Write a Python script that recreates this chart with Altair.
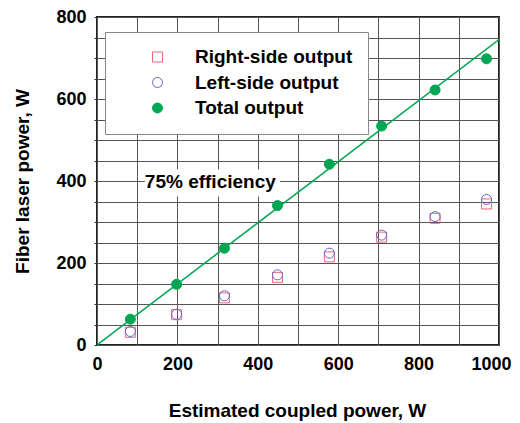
import altair as alt
import pandas as pd

# ---- data ----
coupled = [83, 198, 317, 449, 578, 708, 841, 969]
right_side = [31, 74, 115, 165, 215, 263, 309, 344]
left_side = [33, 75, 120, 171, 224, 268, 313, 355]
total = [63, 148, 236, 340, 441, 534, 622, 698]
series_names = ["Right-side output", "Left-side output", "Total output"]

fit_x = [0, 1000]
fit_y = [0, 745]

ann_text = ["75% efficiency"]
ann_x = [119]
ann_y = [397]
ann_box_x = [119, 455]
ann_box_y = [362, 428]

x_ticks = list(range(0, 1001, 100))
y_ticks = list(range(0, 801, 50))

FONT = "Liberation Sans"

rows = []
for name, vals in zip(series_names, [right_side, left_side, total]):
    for xv, yv in zip(coupled, vals):
        rows.append({"x": xv, "y": yv, "series": name})
df = pd.DataFrame(rows)
df_fit = pd.DataFrame({"x": fit_x, "y": fit_y})
df_ann = pd.DataFrame({"x": ann_x, "y": ann_y, "t": ann_text})
df_box = pd.DataFrame({"x": [ann_box_x[0]], "x2": [ann_box_x[1]],
                       "y": [ann_box_y[0]], "y2": [ann_box_y[1]]})

xscale = alt.Scale(domain=[0, 1000], nice=False, zero=False)
yscale = alt.Scale(domain=[0, 800], nice=False, zero=False)

xaxis = alt.Axis(values=x_ticks, format="d", labelFlush=False,
                 labelExpr="datum.value % 200 == 0 ? datum.label : ''",
                 labelAlign={"condition": {"test": "datum.value == 1000", "value": "right"},
                             "value": "center"},
                 labelOffset={"condition": {"test": "datum.value == 1000", "value": 12},
                              "value": 0},
                 title="Estimated coupled power, W", grid=True, ticks=False,
                 labelPadding=10, titleX=200, titleY=65, titleBaseline="middle")
yaxis = alt.Axis(values=y_ticks, format="d", labelFlush=False,
                 labelExpr="datum.value % 200 == 0 ? datum.label : ''",
                 title="Fiber laser power, W", grid=True, ticks=True, tickSize=3,
                 labelPadding=8, titleX=-75, titleY=164, titleBaseline="middle",
                 titleAngle=-90)

base_x = alt.X("x:Q", scale=xscale, axis=xaxis)
base_y = alt.Y("y:Q", scale=yscale, axis=yaxis)

box = alt.Chart(df_box).mark_rect(color="white").encode(
    x=alt.X("x:Q", scale=xscale, axis=xaxis), x2="x2:Q",
    y=alt.Y("y:Q", scale=yscale, axis=yaxis), y2="y2:Q")

line = alt.Chart(df_fit).mark_line(color="#00a651", strokeWidth=1.5, clip=True).encode(
    x=base_x, y=base_y)

pts = alt.Chart(df).mark_point(opacity=1, strokeWidth=1, size=100).encode(
    x=base_x, y=base_y,
    shape=alt.Shape("series:N", scale=alt.Scale(domain=series_names,
                    range=["square", "circle", "circle"]),
                    legend=alt.Legend(title=None)),
    stroke=alt.Stroke("series:N", scale=alt.Scale(domain=series_names,
                      range=["#ee6677", "#6666cc", "#00a651"]),
                      legend=alt.Legend(title=None)),
    fill=alt.Fill("series:N", scale=alt.Scale(domain=series_names,
                  range=["transparent", "transparent", "#00a651"]),
                  legend=alt.Legend(title=None)),
    order=alt.Order("series:N", sort="descending"),
)

ann = alt.Chart(df_ann).mark_text(align="left", baseline="middle", font=FONT,
                                  fontWeight="bold", fontSize=19, color="black").encode(
    x=base_x, y=base_y, text="t:N")

chart = alt.layer(box, line, pts, ann).properties(
    width=402, height=328,
    autosize=alt.AutoSizeParams(type="none"),
    padding={"left": 89, "top": 9, "right": 13, "bottom": 78},
).configure_view(
    stroke="#222", strokeWidth=2
).configure_axis(
    labelFont=FONT, labelFontWeight="bold", labelFontSize=18, labelColor="black",
    titleFont=FONT, titleFontWeight="bold", titleFontSize=19, titleColor="black",
    gridColor="#555", gridWidth=1, gridOpacity=1, domain=False, tickColor="#333",
).configure_legend(
    orient="none", legendX=8, legendY=15,
    fillColor="white", strokeColor="#888", padding=15.5,
    labelFont=FONT, labelFontWeight="bold", labelFontSize=19, labelColor="black",
    symbolOffset=27.5, labelOffset=28, rowPadding=5.5, symbolSize=100,
    symbolStrokeWidth=1, labelLimit=300,
)

chart.save("out.html", embed_options={"renderer": "svg", "actions": False})
